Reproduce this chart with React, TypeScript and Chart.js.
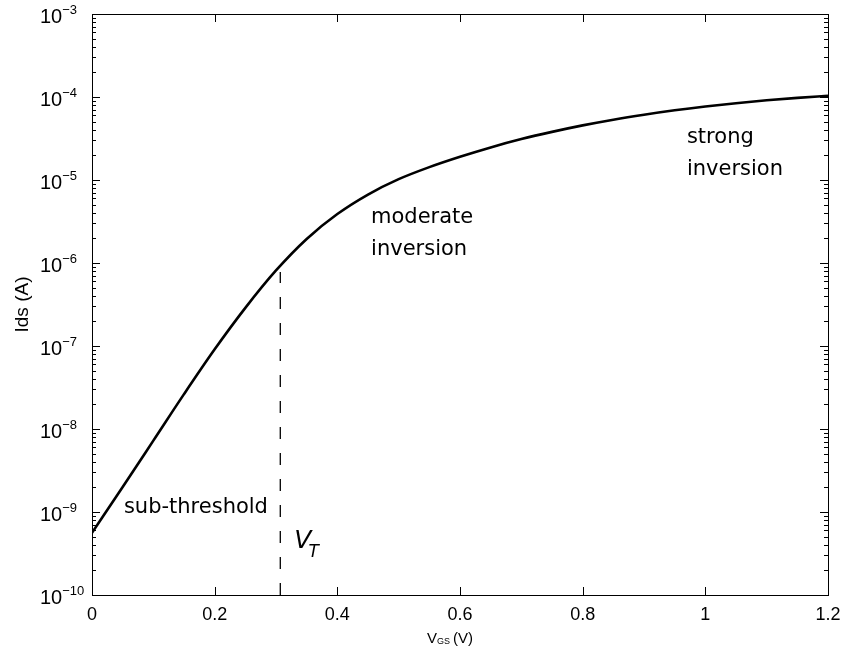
import { useEffect, useRef } from 'react';
import { Chart, registerables } from 'chart.js';

Chart.register(...registerables);

// Gate voltage sweep (V) and drain current (A)
const VGS = [
  0, 0.05, 0.1, 0.15, 0.2, 0.25, 0.3, 0.35, 0.4, 0.45, 0.5, 0.55, 0.6,
  0.65, 0.7, 0.75, 0.8, 0.85, 0.9, 0.95, 1.0, 1.05, 1.1, 1.15, 1.2,
];
const IDS = [
  5.62e-10, 2.0e-9, 7.24e-9, 2.63e-8, 9.12e-8, 2.88e-7, 8.13e-7, 1.95e-6,
  3.89e-6, 6.68e-6, 1.023e-5, 1.429e-5, 1.905e-5, 2.47e-5, 3.11e-5, 3.8e-5,
  4.55e-5, 5.33e-5, 6.12e-5, 6.92e-5, 7.69e-5, 8.42e-5, 9.12e-5, 9.77e-5,
  1.035e-4,
];

// Threshold voltage marker
const VT = 0.307;
const VT_LINE = [1e-10, 7.8e-7];

// Axis ticks
const X_TICKS = [0, 0.2, 0.4, 0.6, 0.8, 1, 1.2];
const X_TICK_LABELS = ['0', '0.2', '0.4', '0.6', '0.8', '1', '1.2'];
const Y_EXPONENTS = [-10, -9, -8, -7, -6, -5, -4, -3];

// Region annotations: [text, vgs, current at text baseline]
const REGION_LABELS: [string, number, number][] = [
  ['sub-threshold', 0.052, 9.7e-10],
  ['moderate', 0.455, 3.03e-6],
  ['inversion', 0.455, 1.25e-6],
  ['strong', 0.97, 2.79e-5],
  ['inversion', 0.97, 1.15e-5],
];

const TICK_FONT = 'Liberation Sans, Arial, sans-serif';
const NOTE_FONT = 'DejaVu Sans, sans-serif';

const axesPlugin = {
  id: 'matlabAxes',
  afterDraw(chart: any) {
    const { ctx, chartArea } = chart;
    const { left, right, top, bottom } = chartArea;
    const xs = chart.scales.x;
    const ys = chart.scales.y;
    const px = (v: number) => Math.round(v) + 0.5;

    ctx.save();
    ctx.strokeStyle = '#000';
    ctx.fillStyle = '#000';
    ctx.lineWidth = 1;

    // frame
    ctx.strokeRect(px(left), px(top), Math.round(right) - Math.round(left), Math.round(bottom) - Math.round(top));

    // x ticks (inward, top and bottom)
    ctx.beginPath();
    X_TICKS.forEach((t) => {
      const x = px(xs.getPixelForValue(t));
      ctx.moveTo(x, bottom);
      ctx.lineTo(x, bottom - 8);
      ctx.moveTo(x, top);
      ctx.lineTo(x, top + 8);
    });
    // y ticks, major and minor (inward, left and right)
    Y_EXPONENTS.forEach((e) => {
      for (let m = 1; m <= 9; m++) {
        const v = m * Math.pow(10, e);
        if (v > ys.max * 1.0001) break;
        const y = px(ys.getPixelForValue(v));
        const len = m === 1 ? 8 : 4;
        ctx.moveTo(left, y);
        ctx.lineTo(left + len, y);
        ctx.moveTo(right, y);
        ctx.lineTo(right - len, y);
      }
    });
    ctx.stroke();

    // x tick labels
    ctx.font = `18px ${TICK_FONT}`;
    ctx.textAlign = 'center';
    ctx.textBaseline = 'alphabetic';
    X_TICKS.forEach((t, i) => {
      ctx.fillText(X_TICK_LABELS[i], xs.getPixelForValue(t), bottom + 25);
    });

    // y tick labels: 10 with a raised exponent
    ctx.textAlign = 'left';
    Y_EXPONENTS.forEach((e) => {
      const y = ys.getPixelForValue(Math.pow(10, e));
      ctx.font = `20px ${TICK_FONT}`;
      const base = '10';
      ctx.fillText(base, 40, y + 9);
      const w = ctx.measureText(base).width;
      ctx.font = `13px ${TICK_FONT}`;
      ctx.fillText('\u2212' + Math.abs(e), 40 + w, y);
    });

    // x axis title: V_GS (V)
    const cx = (left + right) / 2 - 33;
    ctx.font = `15px ${TICK_FONT}`;
    ctx.fillText('V', cx, bottom + 48);
    let w = ctx.measureText('V').width;
    ctx.font = `9px ${TICK_FONT}`;
    ctx.fillText('GS', cx + w, bottom + 49);
    w += ctx.measureText('GS').width + 3;
    ctx.font = `15px ${TICK_FONT}`;
    ctx.fillText('(V)', cx + w, bottom + 48);

    // y axis title
    ctx.save();
    ctx.translate(23, (top + bottom) / 2);
    ctx.rotate(-Math.PI / 2);
    ctx.textAlign = 'center';
    ctx.textBaseline = 'middle';
    ctx.font = `19px ${TICK_FONT}`;
    ctx.fillText('Ids (A)', 0, 0);
    ctx.restore();

    // region annotations
    ctx.font = `21px ${NOTE_FONT}`;
    ctx.textAlign = 'left';
    ctx.textBaseline = 'alphabetic';
    REGION_LABELS.forEach(([text, vx, vy]) => {
      ctx.fillText(text, xs.getPixelForValue(vx), ys.getPixelForValue(vy));
    });

    // threshold label V_T
    const vtx = xs.getPixelForValue(VT) + 14;
    const vty = ys.getPixelForValue(VT_LINE[0]) - 47;
    ctx.font = `italic 25px ${NOTE_FONT}`;
    ctx.fillText('V', vtx, vty);
    const vw = ctx.measureText('V').width;
    ctx.font = `italic 17px ${NOTE_FONT}`;
    ctx.fillText('T', vtx + vw - 3, vty + 9);

    ctx.restore();
  },
};

export default function App() {
  const canvasRef = useRef<HTMLCanvasElement | null>(null);

  useEffect(() => {
    const canvas = canvasRef.current;
    if (!canvas) return;
    const chart = new Chart(canvas, {
      type: 'line',
      data: {
        datasets: [
          {
            label: 'Ids',
            data: VGS.map((v, i) => ({ x: v, y: IDS[i] })),
            borderColor: '#000',
            borderWidth: 2.6,
            pointRadius: 0,
            cubicInterpolationMode: 'monotone',
            fill: false,
          },
          {
            label: 'VT',
            data: VT_LINE.map((c) => ({ x: VT, y: c })),
            borderColor: '#000',
            borderWidth: 1.3,
            borderDash: [12, 14],
            pointRadius: 0,
            fill: false,
          },
        ],
      },
      options: {
        animation: false,
        responsive: false,
        maintainAspectRatio: false,
        layout: { padding: { left: 92, top: 14, right: 18, bottom: 56 } },
        plugins: {
          legend: { display: false },
          tooltip: { enabled: false },
        },
        scales: {
          x: { type: 'linear', min: 0, max: 1.2, display: false },
          y: { type: 'logarithmic', min: 1e-10, max: 1e-3, display: false },
        },
      },
      plugins: [axesPlugin],
    });
    return () => chart.destroy();
  }, []);

  return (
    <div style={{ position: 'absolute', left: 0, top: 0, width: 846, height: 651, background: '#fff' }}>
      <canvas ref={canvasRef} width={846} height={651} style={{ display: 'block' }} />
    </div>
  );
}
